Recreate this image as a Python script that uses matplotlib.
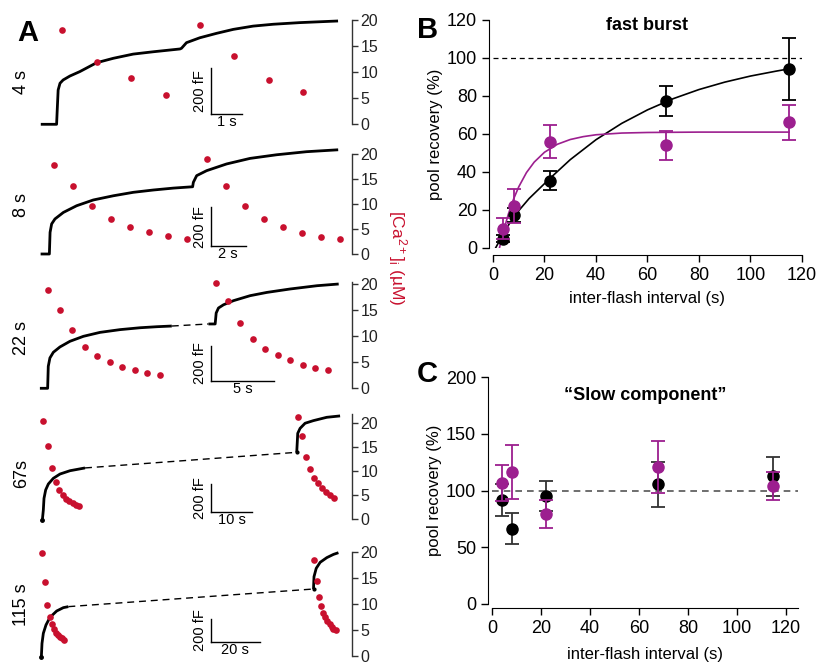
import matplotlib
matplotlib.use("Agg")
import matplotlib.pyplot as plt

plt.rcParams['font.family'] = ['Liberation Sans', 'DejaVu Sans']
plt.rcParams['mathtext.fontset'] = 'custom'
plt.rcParams['mathtext.rm'] = 'Liberation Sans'
plt.rcParams['mathtext.it'] = 'Liberation Sans:italic'

RED = '#c8102e'
PURPLE = '#9c1f8f'

# ---------------- Panel A data (display time in s, capacitance in fF, Ca in uM)
row_labels = ['4 s', '8 s', '22 s', '67s', '115 s']
bar_labels = ['1 s', '2 s', '5 s', '10 s', '20 s']
bar_seconds = [1, 2, 5, 10, 20]

trace1_t = [-0.52, -0.01, 0.01, 0.04, 0.10, 0.20, 0.42, 0.74, 1.28, 1.82, 2.46, 3.11, 3.97, 4.02, 4.18,
            4.61, 5.15, 5.69, 6.33, 6.98, 7.84, 9.07]
trace1_c = [0, 0, 61, 147, 176, 190, 207, 226, 264, 283, 301, 311, 323, 326, 350,
            371, 390, 407, 421, 429, 436, 443]
ca1_t = [0.17, 1.28, 2.39, 3.51, 4.61, 5.72, 6.85, 7.95]
ca1_v = [18.1, 12.0, 8.8, 5.6, 19.1, 13.1, 8.4, 6.2]

trace2_t = [-0.50, 0.0, 0.04, 0.13, 0.32, 0.80, 1.56, 2.51, 3.66, 4.80, 5.94, 7.09, 8.19, 8.23, 8.42,
            8.99, 10.13, 11.47, 12.99, 14.70, 16.51]
trace2_c = [0, 0, 113, 157, 183, 217, 252, 282, 304, 322, 334, 344, 351, 374, 409,
            435, 470, 499, 518, 534, 544]
ca2_t = [0.27, 1.37, 2.46, 3.54, 4.63, 5.71, 6.80, 7.89, 8.99, 10.08, 11.16, 12.25, 13.33, 14.42, 15.50, 16.59]
ca2_v = [17.9, 13.7, 9.6, 7.1, 5.5, 4.5, 3.6, 3.1, 19.0, 13.7, 9.7, 7.1, 5.5, 4.2, 3.5, 3.0]

trace3a_t = [-0.61, 0.0, 0.05, 0.18, 0.45, 0.97, 1.76, 2.82, 4.13, 5.71, 7.29, 8.61, 9.79]
trace3a_c = [0, 0, 128, 177, 210, 241, 274, 303, 326, 342, 353, 359, 363]
trace3b_t = [12.68, 13.21, 13.29, 13.47, 13.87, 14.66, 15.97, 17.29, 19.13, 21.24, 22.95]
trace3b_c = [375, 375, 439, 468, 487, 511, 540, 559, 579, 598, 608]
ca3_t = [0.0, 0.97, 1.95, 2.95, 3.92, 4.89, 5.89, 6.87, 7.84, 8.84,
         13.24, 14.21, 15.18, 16.18, 17.16, 18.13, 19.11, 20.11, 21.08, 22.08]
ca3_v = [18.9, 15.1, 11.1, 8.0, 6.2, 5.1, 4.0, 3.5, 2.9, 2.6,
         20.1, 16.7, 12.5, 9.5, 7.6, 6.3, 5.4, 4.5, 3.8, 3.45]

trace4a_t = [0.0, 0.24, 0.40, 0.80, 1.44, 2.64, 4.24, 6.64, 10.24]
trace4a_c = [-8, 65, 149, 210, 253, 294, 325, 349, 369]
trace4b_t = [61.04, 61.28, 61.84, 63.04, 65.04, 68.24, 71.44]
trace4b_c = [482, 619, 655, 692, 711, 735, 745]
ca4_t = [0.24, 1.28, 2.24, 3.28, 4.08, 4.88, 5.68, 6.48, 7.28, 8.08, 8.88,
         61.44, 62.4, 63.28, 64.24, 65.2, 66.16, 67.12, 68.08, 69.04, 69.92]
ca4_v = [20.3, 15.2, 10.6, 7.75, 6.0, 5.0, 4.2, 3.7, 3.25, 2.9, 2.6,
         21.1, 17.2, 12.8, 10.3, 8.6, 7.4, 6.4, 5.6, 5.0, 4.4]

trace5a_t = [0.0, 0.27, 0.81, 1.89, 3.51, 6.22, 8.92, 10.95]
trace5a_c = [-12, 113, 203, 278, 346, 403, 433, 442]
trace5b_t = [110.3, 110.5, 111.4, 113.0, 115.7, 118.4, 120.4]
trace5b_c = [600, 710, 785, 839, 881, 910, 925]
ca5_t = [0.41, 1.35, 2.43, 3.51, 4.46, 5.27, 6.08, 6.89, 7.70, 8.51, 9.32,
         110.5, 111.6, 112.6, 113.5, 114.3, 115.1, 115.9, 116.8, 117.6, 118.4, 119.5]
ca5_v = [19.7, 14.1, 9.8, 7.5, 6.1, 5.2, 4.5, 4.1, 3.7, 3.4, 3.1,
         18.4, 14.4, 11.4, 9.5, 8.3, 7.5, 6.8, 6.1, 5.6, 5.2, 4.9]

# ---------------- Panel B data
interval = [4, 8, 22, 67, 115]
fast_black = [5.0, 17.4, 35.3, 77.5, 94.2]
fast_black_err = [2.0, 3.7, 5.0, 8.0, 16.5]
fast_purple = [10.2, 22.1, 56.0, 54.0, 66.1]
fast_purple_err = [5.5, 9.0, 8.7, 7.5, 9.4]
fit_black_t = [1, 4, 8, 14, 22, 30, 40, 50, 60, 70, 80, 90, 100, 110, 115]
fit_black_v = [0, 7.5, 16.5, 26.0, 36.5, 46.5, 57.0, 65.6, 72.7, 78.6, 83.4, 87.3, 90.5, 93.1, 94.3]
fit_purple_t = [2.5, 4, 6, 8, 10, 13, 16, 20, 25, 30, 35, 40, 50, 60, 80, 115]
fit_purple_v = [0, 8.5, 18.0, 25.8, 32.2, 39.7, 45.2, 50.4, 54.6, 57.1, 58.6, 59.6, 60.5, 60.8, 61.0, 61.0]

# ---------------- Panel C data
interval_c = [4, 8, 22.2, 67.7, 114.6]
slow_black = [91.6, 66.4, 95.2, 105.4, 112.5]
slow_black_err = [14, 13.4, 13, 20, 17]
slow_purple = [106.9, 116.3, 79.3, 121, 104]
slow_purple_err = [16, 23.5, 12.2, 23, 12.4]

fig = plt.figure(figsize=(8.2, 6.65), dpi=100)
W, H = 820.0, 665.0

def rect(x0, y_bottom_px, x1, y_top_px):
    return [x0 / W, 1 - y_bottom_px / H, (x1 - x0) / W, (y_bottom_px - y_top_px) / H]

rows = [
    dict(y0=124.3, ppu=5.215, top=20.0, xlim=(-0.61, 9.52), k=22.36, bx=4.97, bb=43,
         traces=[(trace1_t, trace1_c)], gap=None, ca=(ca1_t, ca1_v), lab_y=82),
    dict(y0=254.0, ppu=5.0, top=20.0, xlim=(-0.65, 17.3), k=26.1, bx=9.22, bb=43,
         traces=[(trace2_t, trace2_c)], gap=None, ca=(ca2_t, ca2_v), lab_y=205),
    dict(y0=388.3, ppu=5.215, top=20.4, xlim=(-0.76, 24.0), k=30.4, bx=12.87, bb=45,
         traces=[(trace3a_t, trace3a_c), (trace3b_t, trace3b_c)], gap=True, ca=(ca3_t, ca3_v), lab_y=338),
    dict(y0=519.0, ppu=4.815, top=21.8, xlim=(-1.04, 74.3), k=34.8, bx=40.4, bb=53,
         traces=[(trace4a_t, trace4a_c), (trace4b_t, trace4b_c)], gap=True, ca=(ca4_t, ca4_v), lab_y=473),
    dict(y0=656.0, ppu=5.215, top=20.0, xlim=(-1.35, 125.9), k=46.7, bx=68.6, bb=128,
         traces=[(trace5a_t, trace5a_c), (trace5b_t, trace5b_c)], gap=True, ca=(ca5_t, ca5_v), lab_y=605),
]

for i, r in enumerate(rows):
    ytop = r['y0'] - r['ppu'] * r['top']
    ax = fig.add_axes(rect(38, r['y0'], 352, ytop))
    ax.set_xlim(*r['xlim'])
    ax.set_ylim(0, r['k'] * r['top'])
    for s in ax.spines.values():
        s.set_visible(False)
    ax.set_xticks([]); ax.set_yticks([])
    ax.patch.set_alpha(0)
    for (tt, cc) in r['traces']:
        ax.plot(tt, cc, color='black', lw=2.0, clip_on=False, solid_capstyle='butt')
    if r['gap']:
        a, b = r['traces']
        ax.plot([a[0][-1], b[0][0]], [a[1][-1], b[1][0]], color='black', lw=1.0,
                ls=(0, (5, 3.5)), clip_on=False)
    if i >= 3:
        a = r['traces'][0]
        ax.plot([a[0][0]], [a[1][0]], 'o', color='black', ms=2.5, clip_on=False)
        b = r['traces'][1]
        ax.plot([b[0][0]], [b[1][0]], 'o', color='black', ms=2.0, clip_on=False)
    # scale bars
    ax.plot([r['bx'], r['bx']], [r['bb'], r['bb'] + 200], color='black', lw=1.0, clip_on=False)
    ax.plot([r['bx'], r['bx'] + bar_seconds[i]], [r['bb'], r['bb']], color='black', lw=1.0, clip_on=False)
    ax.text(r['bx'] + bar_seconds[i] / 2, r['bb'] - 0.12 * r['k'] - 2, bar_labels[i],
            ha='center', va='top', fontsize=10.5)
    ax.text(r['bx'] - (r['xlim'][1] - r['xlim'][0]) * 0.012, r['bb'] + 100, '200 fF',
            rotation=90, ha='right', va='center', fontsize=10.5)

    ax2 = ax.twinx()
    ax2.set_ylim(0, r['top'])
    for side in ['left', 'top', 'bottom']:
        ax2.spines[side].set_visible(False)
    ax2.spines['right'].set_color('#333333')
    ax2.spines['right'].set_linewidth(1.0)
    ax2.set_yticks([0, 5, 10, 15, 20])
    ax2.tick_params(axis='y', direction='out', length=4, width=1.0, labelsize=11.5, pad=2, colors='#333333')
    ax2.tick_params(axis='y', labelcolor='#222222')
    ax2.plot(r['ca'][0], r['ca'][1], 'o', color=RED, ms=4.8, mec='none', clip_on=False)
    fig.text(22 / W, 1 - r['lab_y'] / H, row_labels[i], rotation=90, ha='center', va='center', fontsize=13)

fig.text(28 / W, 1 - 33 / H, 'A', fontsize=21, fontweight='bold', ha='center', va='center')
fig.text(397 / W, 1 - 258 / H, '[Ca$^{2+}$]$_{\\mathrm{i}}$ (µM)', rotation=270, color=RED,
         ha='center', va='center', fontsize=12.5)

# ---------------- Panel B
axB = fig.add_axes([493 / W, 1 - 248 / H, 309 / W, 228 / H])
axB.set_xlim(0, 120); axB.set_ylim(0, 120)
axB.spines['top'].set_visible(False); axB.spines['right'].set_visible(False)
axB.spines['left'].set_position(('outward', 3))
axB.spines['bottom'].set_position(('outward', 5))
axB.axhline(100, color='black', lw=0.9, ls=(0, (4, 3)))
axB.plot(fit_black_t, fit_black_v, color='black', lw=1.2)
axB.plot(fit_purple_t, fit_purple_v, color=PURPLE, lw=1.2)
axB.errorbar(interval, fast_black, yerr=fast_black_err, fmt='o', color='black', ms=8,
             capsize=5, elinewidth=1.3, capthick=1.3, zorder=3)
axB.errorbar(interval, fast_purple, yerr=fast_purple_err, fmt='o', color=PURPLE, ms=8,
             capsize=5, elinewidth=1.3, capthick=1.3, zorder=4)
axB.set_xticks(range(0, 121, 20)); axB.set_yticks(range(0, 121, 20))
axB.tick_params(direction='out', length=5, width=1.0, labelsize=13)
axB.set_xlabel('inter-flash interval (s)', fontsize=12, labelpad=5)
axB.set_ylabel('pool recovery (%)', fontsize=12, labelpad=3)
axB.set_title('fast burst', fontsize=13, fontweight='bold', pad=0, y=0.955)
fig.text(428 / W, 1 - 30 / H, 'B', fontsize=21, fontweight='bold', ha='center', va='center')

# ---------------- Panel C
axC = fig.add_axes([492 / W, 1 - 604 / H, 306 / W, 227 / H])
axC.set_xlim(0, 125); axC.set_ylim(0, 200)
axC.spines['top'].set_visible(False); axC.spines['right'].set_visible(False)
axC.spines['left'].set_position(('outward', 3))
axC.spines['bottom'].set_position(('outward', 3))
axC.axhline(100, color='#555555', lw=1.2, ls=(0, (4, 3)))
axC.errorbar(interval_c, slow_black, yerr=slow_black_err, fmt='o', color='black', ecolor='#333333',
             ms=8, capsize=5, elinewidth=1.3, capthick=1.3, zorder=3)
axC.errorbar(interval_c, slow_purple, yerr=slow_purple_err, fmt='o', color=PURPLE, ms=8,
             capsize=5, elinewidth=1.3, capthick=1.3, zorder=4)
axC.set_xticks(range(0, 121, 20)); axC.set_yticks(range(0, 201, 50))
axC.tick_params(direction='out', length=5, width=1.0, labelsize=13)
axC.set_xlabel('inter-flash interval (s)', fontsize=12, labelpad=7)
axC.set_ylabel('pool recovery (%)', fontsize=12, labelpad=3)
axC.set_title('\u201cSlow component\u201d', fontsize=13, fontweight='bold', pad=0, y=0.9)
fig.text(427 / W, 1 - 374 / H, 'C', fontsize=21, fontweight='bold', ha='center', va='center')

fig.savefig('out.png', dpi=100)
